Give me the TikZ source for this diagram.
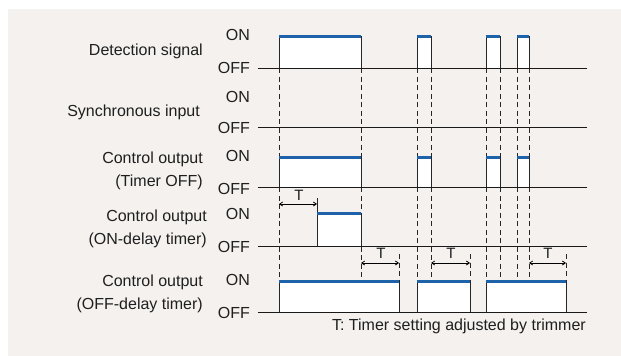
\documentclass[tikz,border=0pt]{standalone}
\usepackage{fontspec}
\setmainfont{Liberation Sans}
\usetikzlibrary{arrows.meta}
\definecolor{bgc}{HTML}{F4F1EE}
\definecolor{sigblue}{HTML}{1E62AA}
\newcommand\mypulse[4]{%
  \fill[white] (#1,#3) rectangle (#2,#4);
  \draw[edgeline] (#1,#4) -- (#1,#3);
  \draw[edgeline] (#2,#3) -- (#2,#4);
}
\newcommand\mytop[3]{\draw[topline] (#1,#3) -- (#2,#3);}
\begin{document}
\begin{tikzpicture}[x=1pt,y=-1pt,
  lbl/.style={font=\fontsize{16}{18}\selectfont, inner sep=0pt, anchor=base east, text=black!88},
  tlbl/.style={font=\fontsize{15}{17}\selectfont, inner sep=0pt, anchor=base, text=black!88},
  baseline/.style={line width=1pt, black!90},
  edgeline/.style={line width=1pt, black!85},
  topline/.style={line width=3pt, sigblue},
  guide/.style={line width=1pt, black!85, dash pattern=on 5pt off 3.5pt},
  dim/.style={{Straight Barb[length=3pt,width=4pt]}-{Straight Barb[length=3pt,width=4pt]}, line width=0.8pt, black}
]
\useasboundingbox (0,0) rectangle (621,356);
\fill[bgc] (8,9) rectangle (621,356);

% guide dashed lines
\foreach \t in {279,361,417,431,486,500,517,529}
  \draw[guide] (\t,68) -- (\t,312);
\foreach \t in {399,470,566}
  \draw[guide] (\t,254) -- (\t,281);

% Detection signal
\mypulse{279}{361}{36}{68}
\mypulse{417}{431}{36}{68}
\mypulse{486}{500}{36}{68}
\mypulse{517}{529}{36}{68}
% Timer OFF
\mypulse{279}{361}{157}{187}
\mypulse{417}{431}{157}{187}
\mypulse{486}{500}{157}{187}
\mypulse{517}{529}{157}{187}
% ON-delay
\mypulse{317}{361}{213}{246}
\draw[edgeline] (317,198) -- (317,213);
% OFF-delay
\mypulse{279}{399}{281}{312}
\mypulse{417}{470}{281}{312}
\mypulse{486}{566}{281}{312}

% baselines
\foreach \y in {68,127,187,246,312}
  \draw[baseline] (258,\y) -- (587,\y);

% top lines
\mytop{279}{361}{36}\mytop{417}{431}{36}\mytop{486}{500}{36}\mytop{517}{529}{36}
\mytop{279}{361}{157}\mytop{417}{431}{157}\mytop{486}{500}{157}\mytop{517}{529}{157}
\mytop{317}{361}{213}
\mytop{279}{399}{281}\mytop{417}{470}{281}\mytop{486}{566}{281}

% dimension arrows
\coordinate (a1) at (279,204); \coordinate (b1) at (317,204);
\coordinate (a2) at (361,263); \coordinate (b2) at (399,263);
\coordinate (a3) at (431,263); \coordinate (b3) at (470,263);
\coordinate (a4) at (529,263); \coordinate (b4) at (566,263);
\draw[dim] (a1) -- (b1);
\draw[dim] (a2) -- (b2);
\draw[dim] (a3) -- (b3);
\draw[dim] (a4) -- (b4);
\node[tlbl] (T1) at (299,200) {T};
\node[tlbl] (T2) at (381,258) {T};
\node[tlbl] (T3) at (451,258) {T};
\node[tlbl] (T4) at (548,258) {T};

% left labels
\node[lbl] (n1) at (203,55) {Detection signal};
\node[lbl] (n2) at (200,116.5) {Synchronous input};
\node[lbl] (n3a) at (203,163) {Control output};
\node[lbl] (n3b) at (203,186) {(Timer OFF)};
\node[lbl] (n4a) at (207,221.5) {Control output};
\node[lbl] (n4b) at (207,244.5) {(ON-delay timer)};
\node[lbl] (n5a) at (203,286.5) {Control output};
\node[lbl] (n5b) at (203,309.5) {(OFF-delay timer)};

% ON/OFF labels
\node[lbl] (on1) at (250,40) {ON};
\node[lbl] (off1) at (250,73) {OFF};
\node[lbl] (on2) at (250,102) {ON};
\node[lbl] (off2) at (250,133) {OFF};
\node[lbl] (on3) at (250,161) {ON};
\node[lbl] (off3) at (250,194) {OFF};
\node[lbl] (on4) at (250,219) {ON};
\node[lbl] (off4) at (250,252.5) {OFF};
\node[lbl] (on5) at (250,285) {ON};
\node[lbl] (off5) at (250,318) {OFF};

\node[lbl] (note) at (586,330.5) {T: Timer setting adjusted by trimmer};
\end{tikzpicture}
\end{document}
